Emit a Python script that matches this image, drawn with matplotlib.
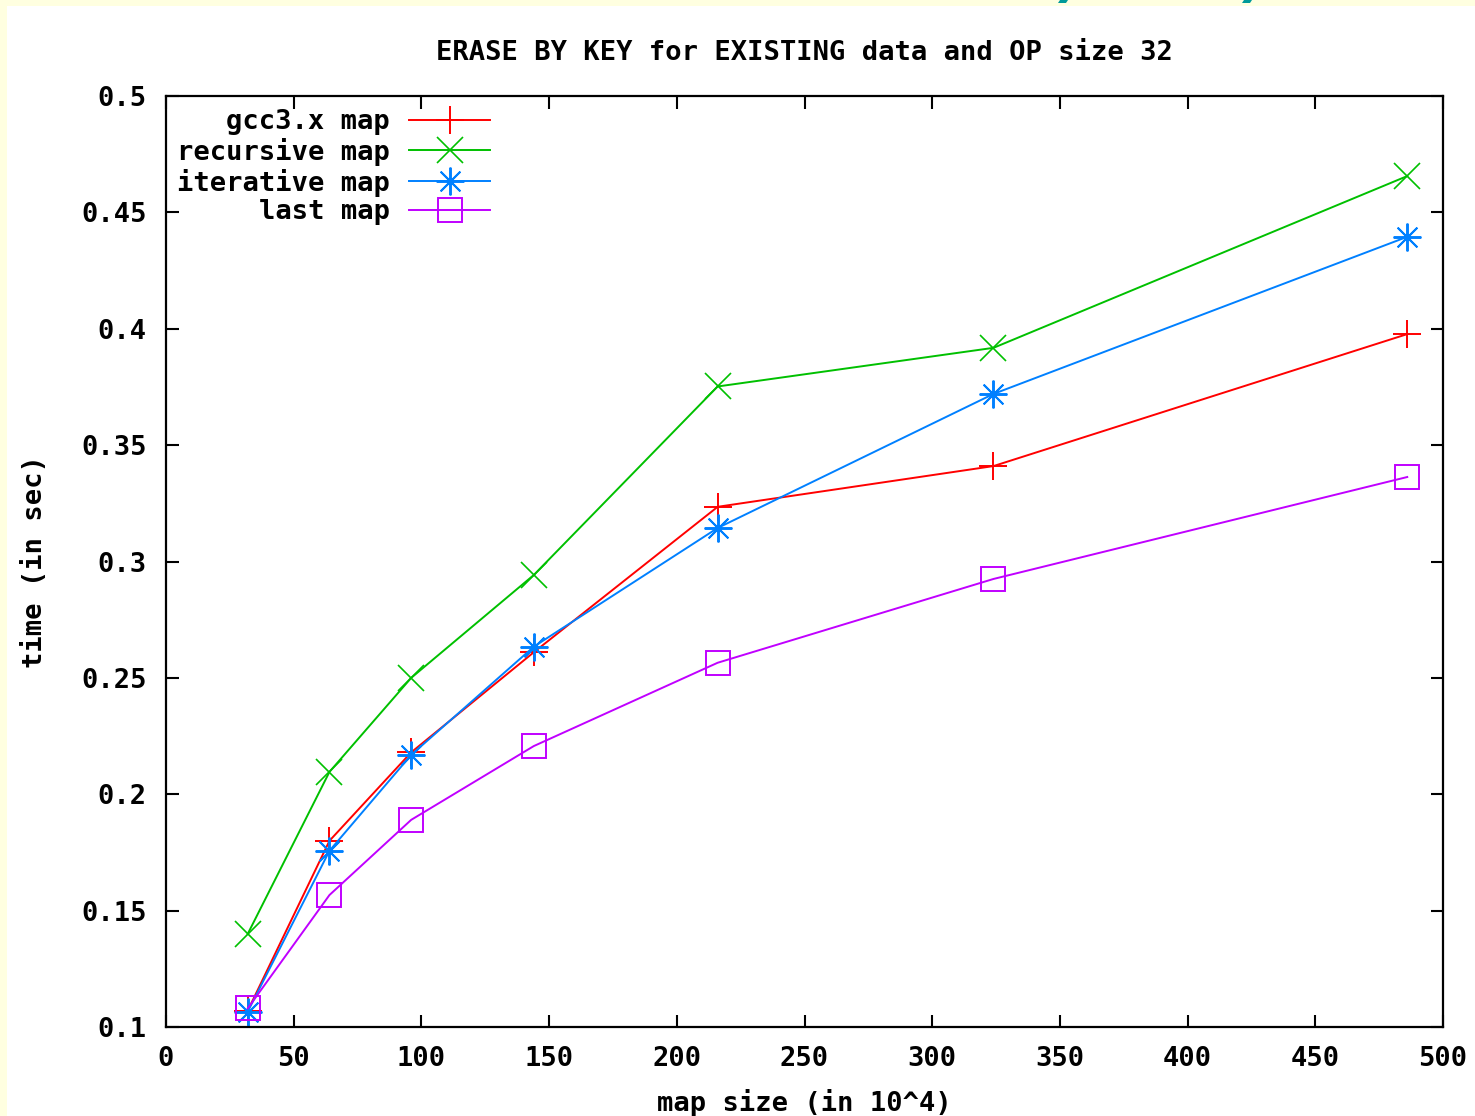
import matplotlib
matplotlib.use('Agg')
import matplotlib.pyplot as plt
from matplotlib.patches import Rectangle, Polygon

# map sizes (in 10^4) and erase times (sec)
sizes = [32, 64, 96, 144, 216, 324, 486]
gcc_map = [0.107, 0.180, 0.218, 0.261, 0.3235, 0.341, 0.3977]
recursive_map = [0.140, 0.2096, 0.250, 0.2942, 0.3752, 0.3918, 0.4656]
iterative_map = [0.1066, 0.1757, 0.2169, 0.2634, 0.3144, 0.372, 0.4395]
last_map = [0.108, 0.1567, 0.189, 0.2207, 0.2565, 0.2925, 0.3363]

x_ticks = [0, 50, 100, 150, 200, 250, 300, 350, 400, 450, 500]
y_ticks = [0.1, 0.15, 0.2, 0.25, 0.3, 0.35, 0.4, 0.45, 0.5]
y_tick_labels = ['0.1', '0.15', '0.2', '0.25', '0.3', '0.35', '0.4', '0.45', '0.5']

plt.rcParams['font.family'] = ['DejaVu Sans Mono']
plt.rcParams['font.weight'] = 'bold'
fs = 19.5

fig = plt.figure(figsize=(14.75, 11.16), dpi=100, facecolor='#ffffe0')
# white page area
fig.patches.append(Rectangle((7 / 1475, 0), 1, 1 - 6 / 1116, transform=fig.transFigure,
                             facecolor='white', edgecolor='none', zorder=-10))
# bits of cut-off teal text along the top edge
for x0 in (1058, 1242):
    pts = [((x0 + dx) / 1475, 1 - dy / 1116) for dx, dy in [(2, 0), (10, 0), (8, 3), (0, 3)]]
    fig.patches.append(Polygon(pts, closed=True, transform=fig.transFigure,
                               facecolor='#009a9a', edgecolor='none', zorder=-5))

ax = fig.add_axes([166 / 1475, 1 - 1027 / 1116, (1443 - 166) / 1475, (1027 - 96) / 1116])
ax.set_facecolor('none')

lw = 1.4
ax.plot(sizes, gcc_map, color='#ff0000', lw=lw, marker='+', ms=20, mew=1.4, label='gcc3.x map')
ax.plot(sizes, recursive_map, color='#00c000', lw=lw, marker='x', ms=19, mew=1.2, label='recursive map')
ax.plot(sizes, iterative_map, color='#0080ff', lw=lw, marker=(8, 2, 0), ms=20, mew=1.4, label='iterative map')
ax.plot(sizes, last_map, color='#c000ff', lw=lw, marker='s', ms=17, mew=1.4, mfc='none', label='last map')

ax.set_xlim(0, 500)
ax.set_ylim(0.1, 0.5)
ax.set_xticks(x_ticks)
ax.set_xticklabels([str(v) for v in x_ticks])
ax.set_yticks(y_ticks)
ax.set_yticklabels(y_tick_labels)
ax.tick_params(direction='in', length=9, width=1.5, top=True, right=True,
               labelsize=fs, pad=14)
for s in ax.spines.values():
    s.set_linewidth(1.6)

ax.set_title('ERASE BY KEY for EXISTING data and OP size 32', fontsize=fs, fontweight='bold', pad=26)
ax.set_xlabel('map size (in 10^4)', fontsize=fs, fontweight='bold', labelpad=12)
ax.set_ylabel('time (in sec)', fontsize=fs, fontweight='bold', labelpad=24)

ax.legend(loc='upper right', bbox_to_anchor=(0.273, 1.012), frameon=False, markerfirst=False,
          fontsize=fs, handlelength=3.0, handletextpad=0.7, labelspacing=0.1, borderpad=0.4)

fig.savefig('out.png', dpi=100, facecolor=fig.get_facecolor())
